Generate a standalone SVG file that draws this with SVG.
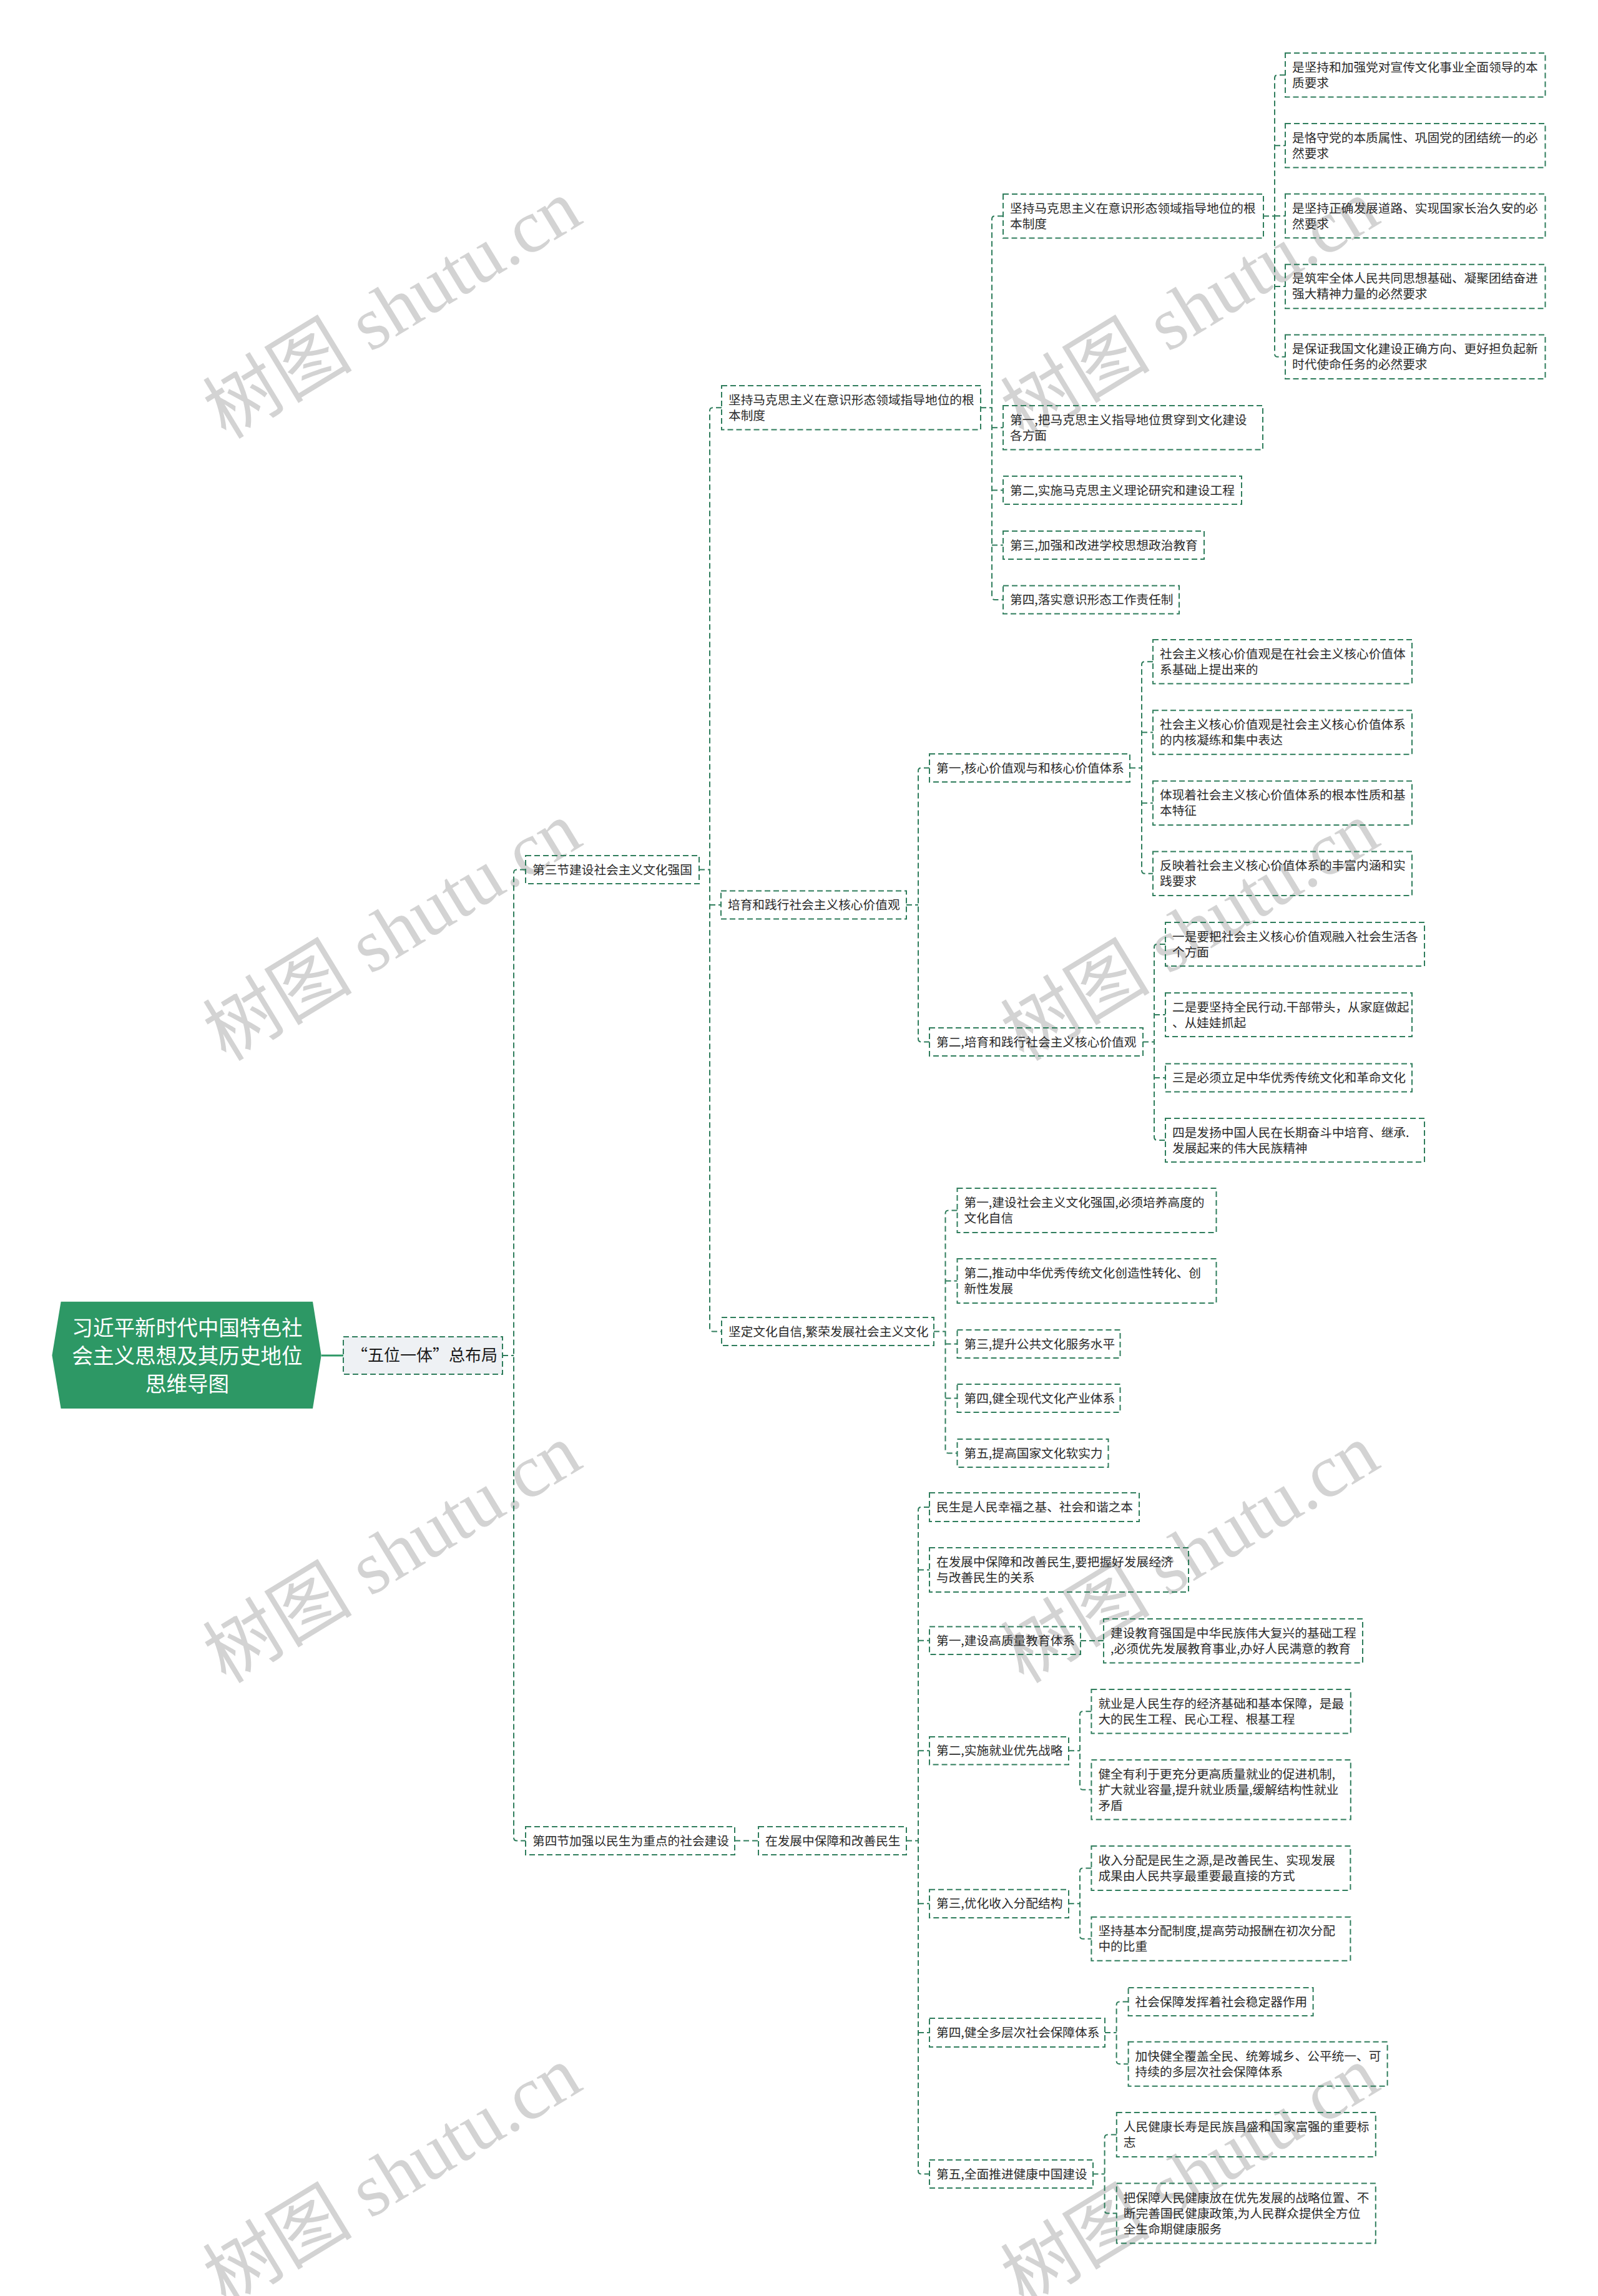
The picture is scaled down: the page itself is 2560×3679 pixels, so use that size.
<svg xmlns="http://www.w3.org/2000/svg" width="2560" height="3679" viewBox="0 0 2560 3679">
<style>
.box{fill:none;stroke:#2f7d5c;stroke-width:2;stroke-dasharray:9 5}
.t{font-family:"Noto Sans CJK SC","Noto Sans",sans-serif;font-size:19.7px;fill:#2a2a2a}
.ln{fill:none;stroke:#2f7d5c;stroke-width:2;stroke-dasharray:9 5}
.wm{font-family:"Liberation Serif","Noto Sans CJK SC",serif;font-size:120px;fill:#d3d3d3}
</style>
<rect x="0" y="0" width="2560" height="3679" fill="#ffffff"/>
<g id="watermark">
<text class="wm" transform="translate(362 705) rotate(-31.3)">树图 shutu.cn</text>
<text class="wm" transform="translate(1640 705) rotate(-31.3)">树图 shutu.cn</text>
<text class="wm" transform="translate(362 1702) rotate(-31.3)">树图 shutu.cn</text>
<text class="wm" transform="translate(1640 1702) rotate(-31.3)">树图 shutu.cn</text>
<text class="wm" transform="translate(362 2699) rotate(-31.3)">树图 shutu.cn</text>
<text class="wm" transform="translate(1640 2699) rotate(-31.3)">树图 shutu.cn</text>
<text class="wm" transform="translate(362 3696) rotate(-31.3)">树图 shutu.cn</text>
<text class="wm" transform="translate(1640 3696) rotate(-31.3)">树图 shutu.cn</text>
</g>
<g id="connectors">
<path d="M515 2172 H550" fill="none" stroke="#2d9865" stroke-width="3"/>
<path class="ln" d="M805 2172 H823 M842 1393.5 H828 Q823 1393.5 823 1398.5 V2944.5 Q823 2949.5 828 2949.5 H842"/>
<path class="ln" d="M1120 1393.5 H1137 M1156 653.25 H1142 Q1137 653.25 1137 658.25 V2128.5 Q1137 2133.5 1142 2133.5 H1156 M1137 1450 H1155"/>
<path class="ln" d="M1177 2949.5 H1215"/>
<path class="ln" d="M1571 653.25 H1589 M1607 346.25 H1594 Q1589 346.25 1589 351.25 V956 Q1589 961 1594 961 H1607 M1589 685.25 H1607 M1589 785.5 H1607 M1589 873.5 H1607"/>
<path class="ln" d="M2024 346.25 H2042 M2059 120.25 H2047 Q2042 120.25 2042 125.25 V566.85 Q2042 571.85 2047 571.85 H2059 M2042 233.15 H2059 M2042 346.05 H2059 M2042 458.95 H2059"/>
<path class="ln" d="M1452 1450 H1471 M1489 1230.5 H1476 Q1471 1230.5 1471 1235.5 V1664.5 Q1471 1669.5 1476 1669.5 H1489"/>
<path class="ln" d="M1810 1230.5 H1829 M1847 1060.25 H1834 Q1829 1060.25 1829 1065.25 V1394.85 Q1829 1399.85 1834 1399.85 H1847 M1829 1173.45 H1847 M1829 1286.65 H1847"/>
<path class="ln" d="M1831 1669.5 H1849 M1867 1513 H1854 Q1849 1513 1849 1518 V1822 Q1849 1827 1854 1827 H1867 M1849 1626 H1867 M1849 1727 H1867"/>
<path class="ln" d="M1496 2133.5 H1514.5 M1533.5 1939.5 H1519.5 Q1514.5 1939.5 1514.5 1944.5 V2323.5 Q1514.5 2328.5 1519.5 2328.5 H1533.5 M1514.5 2052.5 H1533.5 M1514.5 2153.5 H1533.5 M1514.5 2240.5 H1533.5"/>
<path class="ln" d="M1452 2949.5 H1471 M1489 2415 H1476 Q1471 2415 1471 2420 V3478.5 Q1471 3483.5 1476 3483.5 H1489 M1471 2515.5 H1489 M1471 2628.85 H1489 M1471 2805.3 H1489 M1471 3050.35 H1489 M1471 3257 H1489"/>
<path class="ln" d="M1731 2629 H1768"/>
<path class="ln" d="M1712 2805.3 H1730 M1748.4 2742.3 H1735 Q1730 2742.3 1730 2747.3 V2862.75 Q1730 2867.75 1735 2867.75 H1748.4"/>
<path class="ln" d="M1711.7 3050.35 H1730 M1748.4 2993.5 H1735 Q1730 2993.5 1730 2998.5 V3101.7 Q1730 3106.7 1735 3106.7 H1748.4"/>
<path class="ln" d="M1770 3257 H1788.6 M1807.6 3207.5 H1793.6 Q1788.6 3207.5 1788.6 3212.5 V3302.2 Q1788.6 3307.2 1793.6 3307.2 H1807.6"/>
<path class="ln" d="M1750.5 3483.5 H1769.6 M1788.8 3420.5 H1774.6 Q1769.6 3420.5 1769.6 3425.5 V3541.5 Q1769.6 3546.5 1774.6 3546.5 H1788.8"/>
</g>
<g id="root">
<polygon points="97.6,2085.7 501,2085.7 514.7,2171.7 501,2257 97.6,2257 83.4,2171.7" fill="#2d9865"/>
<text font-family="Noto Sans CJK SC, sans-serif" font-size="33.6" fill="#ffffff" text-anchor="middle"><tspan x="300" y="2140">习近平新时代中国特色社</tspan><tspan x="300" y="2185">会主义思想及其历史地位</tspan><tspan x="300" y="2230">思维导图</tspan></text>
</g>
<g id="n-wuwei">
<rect x="550" y="2142" width="255" height="60" fill="#eef1f4" stroke="#2f7d5c" stroke-width="2" stroke-dasharray="9 5"/>
<text x="680" y="2181" font-family="Noto Sans CJK SC, sans-serif" font-size="26" fill="#1a1a1a" text-anchor="middle">“五位一体”总布局</text>
</g>
<g id="n-s3"><rect class="box" x="842" y="1371" width="278" height="45"/><text class="t" x="853" y="1400.5">第三节建设社会主义文化强国</text></g>
<g id="n-s4"><rect class="box" x="842" y="2927" width="335" height="45"/><text class="t" x="853" y="2956.5">第四节加强以民生为重点的社会建设</text></g>
<g id="n-c1"><rect class="box" x="1156" y="618" width="415" height="70.5"/><text class="t"><tspan x="1167" y="647.75">坚持马克思主义在意识形态领域指导地位的根</tspan><tspan x="1167" y="672.75">本制度</tspan></text></g>
<g id="n-c2"><rect class="box" x="1155" y="1427.5" width="297" height="45"/><text class="t" x="1166" y="1457">培育和践行社会主义核心价值观</text></g>
<g id="n-c3"><rect class="box" x="1156" y="2111" width="340" height="45"/><text class="t" x="1167" y="2140.5">坚定文化自信,繁荣发展社会主义文化</text></g>
<g id="n-d"><rect class="box" x="1215" y="2927" width="237" height="45"/><text class="t" x="1226" y="2956.5">在发展中保障和改善民生</text></g>
<g id="n-c1a"><rect class="box" x="1607" y="311" width="417" height="70.5"/><text class="t"><tspan x="1618" y="340.75">坚持马克思主义在意识形态领域指导地位的根</tspan><tspan x="1618" y="365.75">本制度</tspan></text></g>
<g id="n-c1b"><rect class="box" x="1607" y="650" width="416" height="70.5"/><text class="t"><tspan x="1618" y="679.75">第一,把马克思主义指导地位贯穿到文化建设</tspan><tspan x="1618" y="704.75">各方面</tspan></text></g>
<g id="n-c1c"><rect class="box" x="1607" y="763" width="382" height="45"/><text class="t" x="1618" y="792.5">第二,实施马克思主义理论研究和建设工程</text></g>
<g id="n-c1d"><rect class="box" x="1607" y="851" width="322" height="45"/><text class="t" x="1618" y="880.5">第三,加强和改进学校思想政治教育</text></g>
<g id="n-c1e"><rect class="box" x="1607" y="938.5" width="282" height="45"/><text class="t" x="1618" y="968">第四,落实意识形态工作责任制</text></g>
<g id="n-l4a"><rect class="box" x="2059" y="85" width="416.5" height="70.5"/><text class="t"><tspan x="2070" y="114.75">是坚持和加强党对宣传文化事业全面领导的本</tspan><tspan x="2070" y="139.75">质要求</tspan></text></g>
<g id="n-l4b"><rect class="box" x="2059" y="197.9" width="416.5" height="70.5"/><text class="t"><tspan x="2070" y="227.65">是恪守党的本质属性、巩固党的团结统一的必</tspan><tspan x="2070" y="252.65">然要求</tspan></text></g>
<g id="n-l4c"><rect class="box" x="2059" y="310.8" width="416.5" height="70.5"/><text class="t"><tspan x="2070" y="340.55">是坚持正确发展道路、实现国家长治久安的必</tspan><tspan x="2070" y="365.55">然要求</tspan></text></g>
<g id="n-l4d"><rect class="box" x="2059" y="423.7" width="416.5" height="70.5"/><text class="t"><tspan x="2070" y="453.45">是筑牢全体人民共同思想基础、凝聚团结奋进</tspan><tspan x="2070" y="478.45">强大精神力量的必然要求</tspan></text></g>
<g id="n-l4e"><rect class="box" x="2059" y="536.6" width="416.5" height="70.5"/><text class="t"><tspan x="2070" y="566.35">是保证我国文化建设正确方向、更好担负起新</tspan><tspan x="2070" y="591.35">时代使命任务的必然要求</tspan></text></g>
<g id="n-c2a"><rect class="box" x="1489" y="1208" width="321" height="45"/><text class="t" x="1500" y="1237.5">第一,核心价值观与和核心价值体系</text></g>
<g id="n-c2b"><rect class="box" x="1489" y="1647" width="342" height="45"/><text class="t" x="1500" y="1676.5">第二,培育和践行社会主义核心价值观</text></g>
<g id="n-c2a1"><rect class="box" x="1847" y="1025" width="415" height="70.5"/><text class="t"><tspan x="1858" y="1054.75">社会主义核心价值观是在社会主义核心价值体</tspan><tspan x="1858" y="1079.75">系基础上提出来的</tspan></text></g>
<g id="n-c2a2"><rect class="box" x="1847" y="1138.2" width="415" height="70.5"/><text class="t"><tspan x="1858" y="1167.95">社会主义核心价值观是社会主义核心价值体系</tspan><tspan x="1858" y="1192.95">的内核凝练和集中表达</tspan></text></g>
<g id="n-c2a3"><rect class="box" x="1847" y="1251.4" width="415" height="70.5"/><text class="t"><tspan x="1858" y="1281.15">体现着社会主义核心价值体系的根本性质和基</tspan><tspan x="1858" y="1306.15">本特征</tspan></text></g>
<g id="n-c2a4"><rect class="box" x="1847" y="1364.6" width="415" height="70.5"/><text class="t"><tspan x="1858" y="1394.35">反映着社会主义核心价值体系的丰富内涵和实</tspan><tspan x="1858" y="1419.35">践要求</tspan></text></g>
<g id="n-c2b1"><rect class="box" x="1867" y="1478" width="415" height="70"/><text class="t"><tspan x="1878" y="1507.5">一是要把社会主义核心价值观融入社会生活各</tspan><tspan x="1878" y="1532.5">个方面</tspan></text></g>
<g id="n-c2b2"><rect class="box" x="1867" y="1591" width="395" height="70"/><text class="t"><tspan x="1878" y="1620.5">二是要坚持全民行动.干部带头，从家庭做起</tspan><tspan x="1878" y="1645.5">、从娃娃抓起</tspan></text></g>
<g id="n-c2b3"><rect class="box" x="1867" y="1704.5" width="395" height="45"/><text class="t" x="1878" y="1734">三是必须立足中华优秀传统文化和革命文化</text></g>
<g id="n-c2b4"><rect class="box" x="1867" y="1792" width="415" height="70"/><text class="t"><tspan x="1878" y="1821.5">四是发扬中国人民在长期奋斗中培育、继承.</tspan><tspan x="1878" y="1846.5">发展起来的伟大民族精神</tspan></text></g>
<g id="n-c3a"><rect class="box" x="1533.5" y="1904" width="415" height="71"/><text class="t"><tspan x="1544.5" y="1934">第一,建设社会主义文化强国,必须培养高度的</tspan><tspan x="1544.5" y="1959">文化自信</tspan></text></g>
<g id="n-c3b"><rect class="box" x="1533.5" y="2017" width="415" height="71"/><text class="t"><tspan x="1544.5" y="2047">第二,推动中华优秀传统文化创造性转化、创</tspan><tspan x="1544.5" y="2072">新性发展</tspan></text></g>
<g id="n-c3c"><rect class="box" x="1533.5" y="2131" width="261" height="45"/><text class="t" x="1544.5" y="2160.5">第三,提升公共文化服务水平</text></g>
<g id="n-c3d"><rect class="box" x="1533.5" y="2218" width="261" height="45"/><text class="t" x="1544.5" y="2247.5">第四,健全现代文化产业体系</text></g>
<g id="n-c3e"><rect class="box" x="1533.5" y="2306" width="242" height="45"/><text class="t" x="1544.5" y="2335.5">第五,提高国家文化软实力</text></g>
<g id="n-da"><rect class="box" x="1489" y="2392" width="336" height="46"/><text class="t" x="1500" y="2422">民生是人民幸福之基、社会和谐之本</text></g>
<g id="n-db"><rect class="box" x="1489" y="2480" width="415" height="71"/><text class="t"><tspan x="1500" y="2510">在发展中保障和改善民生,要把握好发展经济</tspan><tspan x="1500" y="2535">与改善民生的关系</tspan></text></g>
<g id="n-dc"><rect class="box" x="1489" y="2606.6" width="242" height="44.5"/><text class="t" x="1500" y="2635.85">第一,建设高质量教育体系</text></g>
<g id="n-dc1"><rect class="box" x="1768" y="2594" width="415" height="70.6"/><text class="t"><tspan x="1779" y="2623.8">建设教育强国是中华民族伟大复兴的基础工程</tspan><tspan x="1779" y="2648.8">,必须优先发展教育事业,办好人民满意的教育</tspan></text></g>
<g id="n-dd"><rect class="box" x="1489" y="2783" width="223" height="44.6"/><text class="t" x="1500" y="2812.3">第二,实施就业优先战略</text></g>
<g id="n-dd1"><rect class="box" x="1748.4" y="2707" width="415.4" height="70.6"/><text class="t"><tspan x="1759.4" y="2736.8">就业是人民生存的经济基础和基本保障，是最</tspan><tspan x="1759.4" y="2761.8">大的民生工程、民心工程、根基工程</tspan></text></g>
<g id="n-dd2"><rect class="box" x="1748.4" y="2820" width="415.4" height="95.5"/><text class="t"><tspan x="1759.4" y="2849.75">健全有利于更充分更高质量就业的促进机制,</tspan><tspan x="1759.4" y="2874.75">扩大就业容量,提升就业质量,缓解结构性就业</tspan><tspan x="1759.4" y="2899.75">矛盾</tspan></text></g>
<g id="n-de"><rect class="box" x="1489" y="3027.7" width="223" height="45.3"/><text class="t" x="1500" y="3057.35">第三,优化收入分配结构</text></g>
<g id="n-de1"><rect class="box" x="1748.4" y="2958" width="415" height="71"/><text class="t"><tspan x="1759.4" y="2988">收入分配是民生之源,是改善民生、实现发展</tspan><tspan x="1759.4" y="3013">成果由人民共享最重要最直接的方式</tspan></text></g>
<g id="n-de2"><rect class="box" x="1748.4" y="3071.7" width="415" height="70"/><text class="t"><tspan x="1759.4" y="3101.2">坚持基本分配制度,提高劳动报酬在初次分配</tspan><tspan x="1759.4" y="3126.2">中的比重</tspan></text></g>
<g id="n-df"><rect class="box" x="1489" y="3234" width="281" height="46"/><text class="t" x="1500" y="3264">第四,健全多层次社会保障体系</text></g>
<g id="n-df1"><rect class="box" x="1807.6" y="3185" width="296" height="45"/><text class="t" x="1818.6" y="3214.5">社会保障发挥着社会稳定器作用</text></g>
<g id="n-df2"><rect class="box" x="1807.6" y="3271.7" width="415" height="71"/><text class="t"><tspan x="1818.6" y="3301.7">加快健全覆盖全民、统筹城乡、公平统一、可</tspan><tspan x="1818.6" y="3326.7">持续的多层次社会保障体系</tspan></text></g>
<g id="n-dg"><rect class="box" x="1489" y="3461" width="262" height="45"/><text class="t" x="1500" y="3490.5">第五,全面推进健康中国建设</text></g>
<g id="n-dg1"><rect class="box" x="1788.8" y="3385" width="415" height="71"/><text class="t"><tspan x="1799.8" y="3415">人民健康长寿是民族昌盛和国家富强的重要标</tspan><tspan x="1799.8" y="3440">志</tspan></text></g>
<g id="n-dg2"><rect class="box" x="1788.8" y="3498.5" width="415" height="96"/><text class="t"><tspan x="1799.8" y="3528.5">把保障人民健康放在优先发展的战略位置、不</tspan><tspan x="1799.8" y="3553.5">断完善国民健康政策,为人民群众提供全方位</tspan><tspan x="1799.8" y="3578.5">全生命期健康服务</tspan></text></g>
</svg>
